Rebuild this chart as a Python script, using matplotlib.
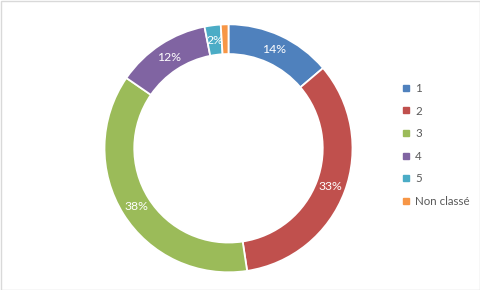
import matplotlib
matplotlib.use("Agg")
import matplotlib.pyplot as plt
from matplotlib.lines import Line2D
from matplotlib.patches import Rectangle

categories = ["1", "2", "3", "4", "5", "Non classé"]
values = [13.8, 33.8, 37.0, 12.3, 2.1, 1.0]
labels = ["14%", "33%", "38%", "12%", "2%", ""]
colors = ["#4F81BD", "#C0504D", "#9BBB59", "#8064A2", "#4BACC6", "#F79646"]

plt.rcParams['font.family'] = ['Lato', 'DejaVu Sans']

W, H = 481, 290
fig = plt.figure(figsize=(W / 100, H / 100), dpi=100)
fig.patch.set_facecolor("white")

cx, cy, R = 228.5, 148.3, 124
lim = 1.1
size = 2 * R * lim
ax = fig.add_axes([(cx - size / 2) / W, (H - cy - size / 2) / H, size / W, size / H])

wedges, texts = ax.pie(values, colors=colors, startangle=90, counterclock=False,
                       radius=1.0, labels=labels, labeldistance=0.88,
                       wedgeprops=dict(width=0.24, edgecolor="white", linewidth=1.3),
                       textprops=dict(color="white", fontsize=8.8))
for t in texts:
    t.set_horizontalalignment("center")
    t.set_verticalalignment("center")
ax.set_xlim(-lim, lim)
ax.set_ylim(-lim, lim)
ax.set_aspect("equal")
ax.axis("off")

handles = [Line2D([0], [0], marker="s", linestyle="", markersize=4.5,
                  markerfacecolor=c, markeredgecolor=c) for c in colors]
leg = fig.legend(handles, categories, loc="upper left",
                 bbox_to_anchor=(403 / W, 1 - 83 / H), frameon=False,
                 fontsize=8.3, labelcolor="#595959", handlelength=0.6,
                 handletextpad=0.45, labelspacing=1.0, borderpad=0, borderaxespad=0)

fig.add_artist(Rectangle((0.5 / W, 0.5 / H), 1 - 1.5 / W, 1 - 1.5 / H,
                         transform=fig.transFigure, fill=False,
                         edgecolor="#D9D9D9", linewidth=1))

fig.savefig("out.png", dpi=100)
